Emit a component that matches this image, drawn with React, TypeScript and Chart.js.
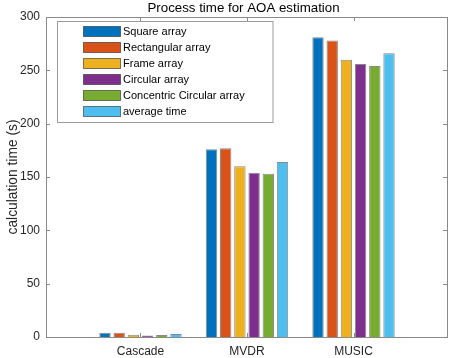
import React, { useEffect, useRef } from "react";
import { Chart, registerables } from "chart.js";
Chart.register(...registerables);

const categories = ["Cascade", "MVDR", "MUSIC"];
const seriesNames = [
  "Square array",
  "Rectangular array",
  "Frame array",
  "Circular array",
  "Concentric Circular array",
  "average time",
];
const squareArray = [4.0, 176, 281];
const rectangularArray = [4.1, 177, 278];
const frameArray = [2.0, 160, 260];
const circularArray = [1.4, 154, 256];
const concentricArray = [1.8, 153, 254];
const averageTime = [2.7, 164, 266];
const yTicks = [0, 50, 100, 150, 200, 250, 300];
const colors = ["#0072BD", "#D95319", "#EDB120", "#7E2F8E", "#77AC30", "#4DBEEE"];
const titleText = "Process time for AOA estimation";
const yTitle = "calculation time (s)";

const FONT = "'Liberation Sans', Arial, Helvetica, sans-serif";

const framePlugin = {
  id: "matlabFrame",
  afterDatasetsDraw(chart: any) {
    const { ctx, chartArea } = chart;
    const { left, right, top, bottom } = chartArea;
    const xs = chart.scales.x;
    const ys = chart.scales.y;
    ctx.save();
    ctx.strokeStyle = "#8a8a8a";
    ctx.lineWidth = 1;
    ctx.strokeRect(Math.round(left) + 0.5, Math.round(top) + 0.5, Math.round(right - left) - 1, Math.round(bottom - top));
    ctx.beginPath();
    yTicks.forEach((v) => {
      const y = Math.round(ys.getPixelForValue(v)) + 0.5;
      ctx.moveTo(left, y);
      ctx.lineTo(left + 4, y);
      ctx.moveTo(right - 1, y);
      ctx.lineTo(right - 5, y);
    });
    categories.forEach((_, i) => {
      const x = Math.round(xs.getPixelForValue(i + 1)) + 0.5;
      ctx.moveTo(x, bottom);
      ctx.lineTo(x, bottom - 4);
      ctx.moveTo(x, top);
      ctx.lineTo(x, top + 4);
    });
    ctx.stroke();

    // legend
    const lx = 57.5, ly = 21.5, lw = 215.5, lh = 101;
    ctx.fillStyle = "#ffffff";
    ctx.fillRect(lx, ly, lw, lh);
    ctx.strokeStyle = "#9a9a9a";
    ctx.strokeRect(lx, ly, lw, lh);
    ctx.font = `11px ${FONT}`;
    ctx.textBaseline = "middle";
    ctx.textAlign = "left";
    chart.data.datasets.forEach((ds: any, i: number) => {
      const cy = 31.2 + i * 16;
      ctx.fillStyle = ds.backgroundColor;
      ctx.fillRect(83.5, Math.round(cy - 5.5) + 0.5, 37, 10);
      ctx.strokeStyle = "rgba(40,40,40,0.6)";
      ctx.strokeRect(83.5, Math.round(cy - 5.5) + 0.5, 37, 10);
      ctx.fillStyle = "#000000";
      ctx.fillText(ds.label, 123, cy + 0.5);
    });

    // title
    ctx.font = `13.3px ${FONT}`;
    ctx.fillStyle = "#000000";
    ctx.textAlign = "center";
    ctx.textBaseline = "alphabetic";
    ctx.fillText(titleText, 243.5, 12);

    // y title
    ctx.save();
    ctx.translate(17, (top + bottom) / 2);
    ctx.rotate(-Math.PI / 2);
    ctx.font = `13.8px ${FONT}`;
    ctx.fillStyle = "#262626";
    ctx.textAlign = "center";
    ctx.textBaseline = "alphabetic";
    ctx.fillText(yTitle, 0, 0);
    ctx.restore();
    ctx.restore();
  },
};

export default function App() {
  const ref = useRef<HTMLCanvasElement | null>(null);
  useEffect(() => {
    if (!ref.current) return;
    const series = [squareArray, rectangularArray, frameArray, circularArray, concentricArray, averageTime];
    const chart = new Chart(ref.current, {
      type: "bar",
      data: {
        datasets: series.map((vals, i) => ({
          label: seriesNames[i],
          data: vals.map((v, j) => ({ x: j + 1, y: v })),
          backgroundColor: colors[i],
          borderColor: "rgba(40,40,40,0.55)",
          borderWidth: 1,
          categoryPercentage: 0.8,
          barPercentage: 0.8,
        })),
      },
      options: {
        responsive: false,
        animation: false,
        events: [],
        layout: { padding: { top: 17, right: 2, left: 0, bottom: 0 } },
        plugins: { legend: { display: false }, title: { display: false }, tooltip: { enabled: false } },
        scales: {
          x: {
            type: "linear",
            offset: false,
            min: 0.113,
            max: 3.887,
            grid: { display: false, drawTicks: false, offset: false },
            border: { display: false },
            afterBuildTicks: (s: any) => {
              s.ticks = categories.map((_, i) => ({ value: i + 1 }));
            },
            ticks: {
              callback: (v: any) => categories[Math.round(Number(v)) - 1] ?? "",
              font: { size: 12, family: FONT },
              color: "#262626",
              padding: 7,
              maxRotation: 0,
              autoSkip: false,
            },
            afterFit: (s: any) => {
              s.height = 21;
            },
          },
          y: {
            min: 0,
            max: 300,
            grid: { display: false, drawTicks: false },
            border: { display: false },
            afterBuildTicks: (s: any) => {
              s.ticks = yTicks.map((v) => ({ value: v }));
            },
            ticks: {
              font: { size: 12, family: FONT },
              color: "#262626",
              padding: 6,
            },
            afterFit: (s: any) => {
              s.width = 46;
            },
          },
        },
      } as any,
      plugins: [framePlugin],
    });
    return () => chart.destroy();
  }, []);
  return (
    <div style={{ position: "fixed", left: 0, top: 0, width: 450, height: 358, background: "#fff" }}>
      <canvas ref={ref} width={450} height={358} style={{ width: 450, height: 358, display: "block" }} />
    </div>
  );
}
